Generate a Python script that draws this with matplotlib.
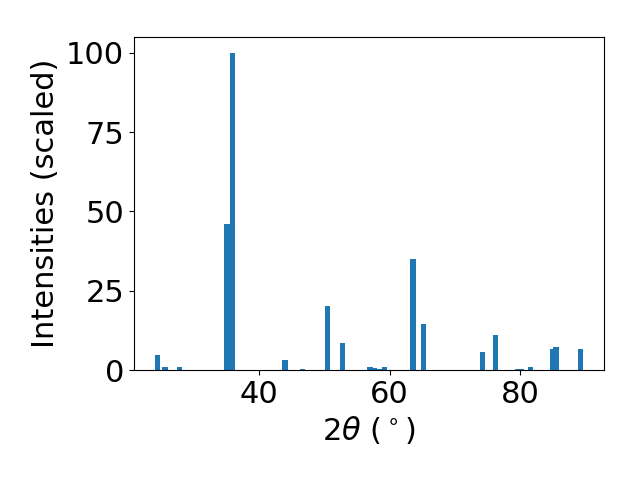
import matplotlib
matplotlib.use("Agg")
import matplotlib.pyplot as plt

# peak positions (2theta, degrees) and scaled intensities
two_theta = [24.5, 25.6, 27.8, 35.1, 35.9, 44.0, 46.7, 50.5, 52.8, 57.0, 57.7,
             58.5, 59.2, 63.6, 65.2, 74.3, 76.2, 79.6, 80.2, 81.6, 85.0, 85.5, 89.2]
intensity = [4.6, 0.9, 1.1, 46.0, 100.0, 3.3, 0.3, 20.2, 8.5, 0.9, 0.6,
             0.3, 0.9, 35.0, 14.5, 5.8, 11.2, 0.3, 0.3, 1.0, 6.8, 7.4, 6.8]

plt.rcParams["font.size"] = 22

fig, ax = plt.subplots(figsize=(6.4, 4.8), dpi=100)
ax.bar(two_theta, intensity, width=0.8, color="#1f77b4")
ax.set_xlabel(r"2$\theta$ ($^\circ$)")
ax.set_ylabel("Intensities (scaled)")
ax.set_yticks([0, 25, 50, 75, 100])

fig.subplots_adjust(left=0.209, right=0.944, top=0.923, bottom=0.229)
fig.savefig("out.png")
